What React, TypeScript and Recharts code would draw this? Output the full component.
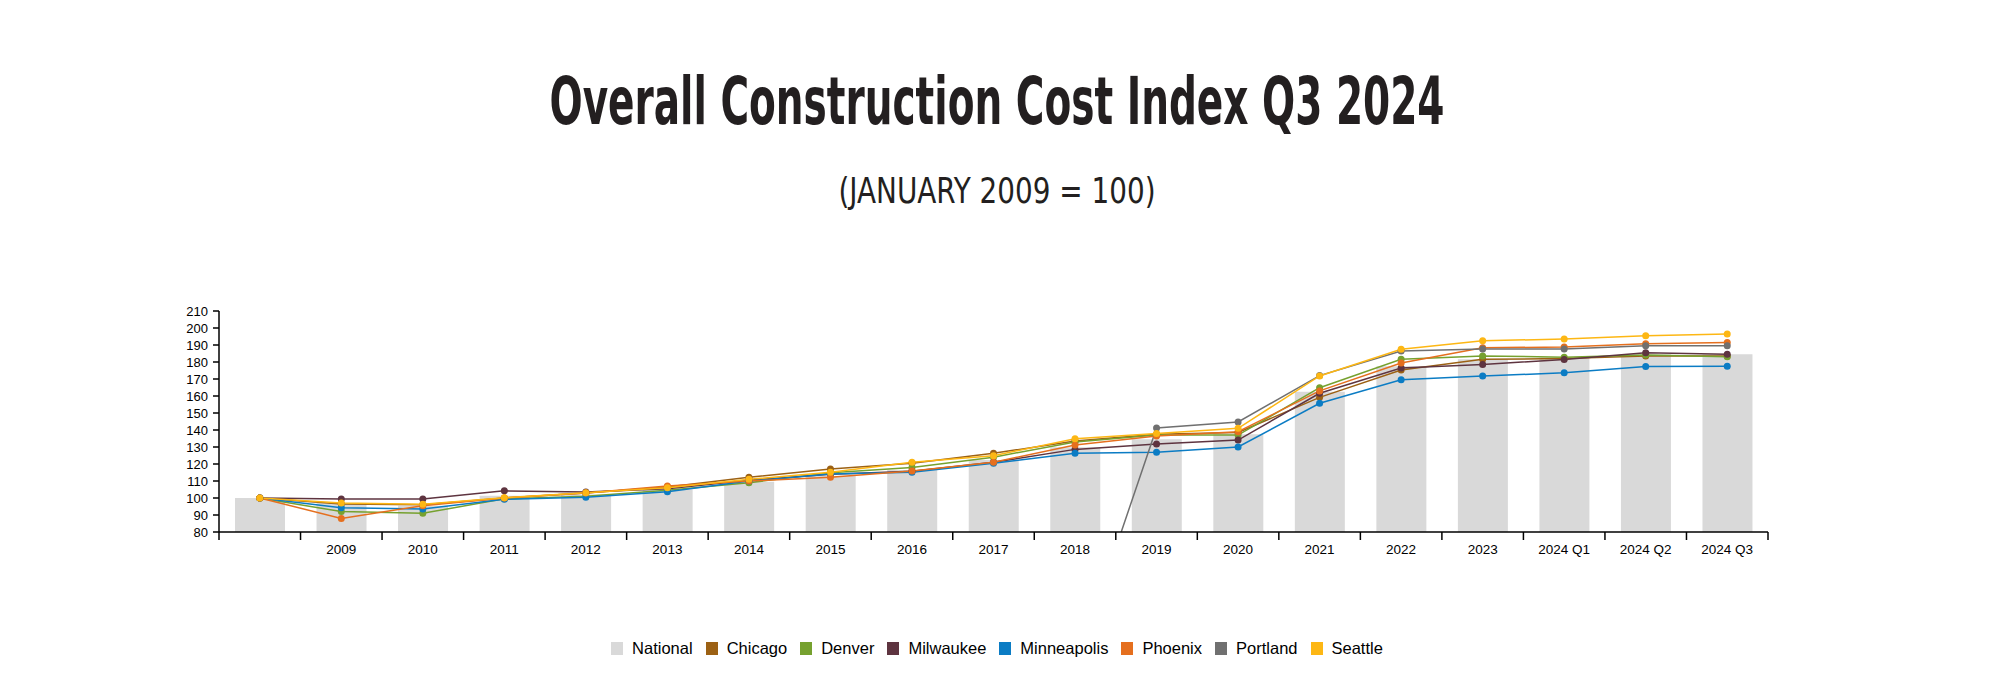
import React from 'react';
import { ComposedChart, Bar, Line, XAxis, YAxis } from 'recharts';

const categories = [
  '', '2009', '2010', '2011', '2012', '2013', '2014', '2015', '2016', '2017',
  '2018', '2019', '2020', '2021', '2022', '2023', '2024 Q1', '2024 Q2', '2024 Q3',
];

const national = [100, 97, 95.5, 101.3, 102, 105, 109.5, 113, 116.5, 122.3, 129.8, 134.5, 137.5, 162.5, 177.5, 181.6, 182.6, 184.5, 184.6];
const chicago = [100, 96.5, 96, 100, 103, 106.5, 112.2, 117, 120.5, 126.3, 133.5, 137.5, 138.5, 159.2, 175.3, 181.6, 182, 183.5, 183.5];
const denver = [100, 92, 91, 99.5, 101, 104.5, 109, 114.8, 118, 124, 133, 137, 137, 164.9, 181.6, 183.6, 182.8, 184.1, 183.1];
const milwaukee = [100, 99.4, 99.4, 104.2, 103.5, 105.5, 110.5, 114, 115.7, 121, 128.6, 131.8, 134.1, 161.6, 176.5, 178.6, 181.5, 185.5, 184.5];
const minneapolis = [100, 94.3, 93.5, 99.2, 100.4, 103.7, 110, 114.1, 115.1, 120.5, 126.3, 126.9, 130, 155.7, 169.6, 171.7, 173.7, 177.4, 177.5];
const phoenix = [100, 88, 95.5, 100, 103, 107, 110, 112.2, 115.9, 121, 131.2, 136.5, 139, 163, 179.4, 188.4, 188.8, 190.8, 191.5];
const portland = [0, 0, 0, 0, 0, 0, 0, 0, 0, 0, 0, 141.2, 144.7, 172, 186.5, 187.6, 187.6, 189.6, 189.6];
const seattle = [100, 97, 96.3, 100.2, 103.1, 106, 111, 115.1, 121, 124.9, 134.9, 138, 141, 171.8, 187.5, 192.5, 193.5, 195.5, 196.5];

const yTicks = [80, 90, 100, 110, 120, 130, 140, 150, 160, 170, 180, 190, 200, 210];

const NATIONAL_COLOR = '#d9d9d9';

const lineSeries = [
  { name: 'Chicago', values: chicago, color: '#9c6114' },
  { name: 'Denver', values: denver, color: '#76a12f' },
  { name: 'Milwaukee', values: milwaukee, color: '#5e3440' },
  { name: 'Minneapolis', values: minneapolis, color: '#0b7cc4' },
  { name: 'Phoenix', values: phoenix, color: '#e56f1e' },
  { name: 'Portland', values: portland, color: '#707070' },
  { name: 'Seattle', values: seattle, color: '#fdb714' },
];

const data = categories.map((name, i) => {
  const row: Record<string, string | number> = { name, National: national[i] };
  lineSeries.forEach((s) => {
    row[s.name] = s.values[i];
  });
  return row;
});

// layout
const W = 2000;
const H = 682;
const margin = { top: 311, right: 232, bottom: 120, left: 179 };
const Y_AXIS_W = 40;
const X_AXIS_H = 30;
const plotWidth = W - margin.left - margin.right - Y_AXIS_W;
const band = plotWidth / categories.length;

const axisFont = '"Liberation Sans", Arial, Helvetica, sans-serif';
const titleFont = "'Liberation Sans Narrow', 'DejaVu Sans Condensed', Roboto, sans-serif";

const XTick = (props: any) => {
  const { x, y, payload, index } = props;
  const half = band / 2;
  return (
    <g>
      <line x1={x - half} x2={x - half} y1={y} y2={y + 8} stroke="#000" strokeWidth={1.5} />
      {index === categories.length - 1 && (
        <line x1={x + half} x2={x + half} y1={y} y2={y + 8} stroke="#000" strokeWidth={1.5} />
      )}
      <text x={x} y={y + 22} textAnchor="middle" fontSize={13.5} fontFamily={axisFont} fill="#000">
        {payload.value}
      </text>
    </g>
  );
};

const legendItems = [{ name: 'National', color: NATIONAL_COLOR }, ...lineSeries];

export default function App() {
  return (
    <div style={{ position: 'relative', width: W, height: H, background: '#fff' }}>
      <style>{'body{margin:0}'}</style>
      <svg width={W} height={240} style={{ position: 'absolute', left: 0, top: 0 }}>
        <text
          x={997}
          y={124}
          textAnchor="middle"
          fontSize={66}
          fontWeight={700}
          fontFamily={titleFont}
          textLength={895}
          lengthAdjust="spacingAndGlyphs"
          fill="#231f20"
        >
          Overall Construction Cost Index Q3 2024
        </text>
        <text
          x={997}
          y={203}
          textAnchor="middle"
          fontSize={35}
          fontWeight={400}
          fontFamily={titleFont}
          textLength={317}
          lengthAdjust="spacingAndGlyphs"
          fill="#231f20"
        >
          (JANUARY 2009 = 100)
        </text>
      </svg>

      <div style={{ position: 'absolute', left: 0, top: 0 }}>
        <ComposedChart width={W} height={H} data={data} margin={margin}>
          <XAxis
            dataKey="name"
            height={X_AXIS_H}
            interval={0}
            tickSize={0}
            tickMargin={0}
            tickLine={false}
            tick={<XTick />}
            axisLine={{ stroke: '#000', strokeWidth: 1.5 }}
          />
          <YAxis
            width={Y_AXIS_W}
            domain={[80, 210]}
            ticks={yTicks}
            interval={0}
            allowDataOverflow
            tickSize={6}
            tickMargin={5}
            axisLine={{ stroke: '#000', strokeWidth: 1.5 }}
            tickLine={{ stroke: '#000', strokeWidth: 1.5 }}
            tick={{ fontSize: 13, fill: '#000', fontFamily: axisFont }}
          />
          <Bar dataKey="National" fill={NATIONAL_COLOR} barSize={50} isAnimationActive={false} />
          {lineSeries.map((s) => (
            <Line
              key={s.name}
              type="linear"
              dataKey={s.name}
              stroke={s.color}
              strokeWidth={1.5}
              dot={{ r: 3.5, fill: s.color, stroke: s.color, strokeWidth: 0 }}
              activeDot={false}
              isAnimationActive={false}
            />
          ))}
        </ComposedChart>
      </div>

      <div
        style={{
          position: 'absolute',
          left: 0,
          top: 639,
          width: W,
          display: 'flex',
          justifyContent: 'center',
          alignItems: 'center',
          fontFamily: axisFont,
          fontSize: 16.5,
          color: '#000',
          transform: 'translateX(-3px)',
        }}
      >
        {legendItems.map((item, i) => (
          <div
            key={item.name}
            style={{ display: 'flex', alignItems: 'center', marginRight: i === legendItems.length - 1 ? 0 : 13 }}
          >
            <span style={{ display: 'inline-block', width: 12, height: 13, background: item.color, marginRight: 9 }} />
            <span>{item.name}</span>
          </div>
        ))}
      </div>
    </div>
  );
}
